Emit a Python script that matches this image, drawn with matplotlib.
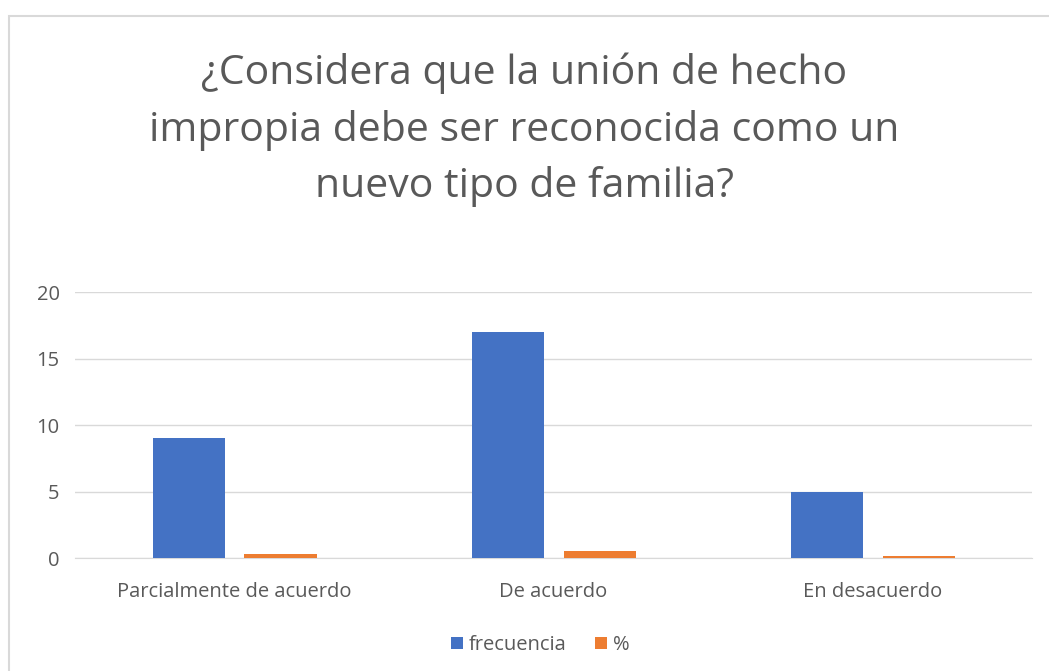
"""Bar chart: unión de hecho impropia survey."""

import matplotlib.pyplot as plt
import numpy as np
from matplotlib.patches import Rectangle

plt.rcParams["font.family"] = ["Open Sans", "DejaVu Sans"]

# Data
categories = ["Parcialmente de acuerdo", "De acuerdo", "En desacuerdo"]
frecuencia = [9, 17, 5]
porcentaje = [0.29, 0.55, 0.16]
yticks = [0, 5, 10, 15, 20]

blue = "#4472C4"
orange = "#ED7D31"
grid = "#D9D9D9"
text_gray = "#595959"

fig = plt.figure(figsize=(10.49, 6.71), dpi=100)
ax = fig.add_axes([0.0715, 0.1684, 0.9125, 0.3964])

# chart border
fig.patches.append(Rectangle((9 / 1049, -0.01), 1.05, 1 - 16 / 671 + 0.01,
                             transform=fig.transFigure, fill=False,
                             edgecolor="#D9D9D9", linewidth=1.5))

x = np.arange(len(categories))
w = 0.226
ax.bar(x - 0.142, frecuencia, w, color=blue, label="frecuencia", zorder=3)
ax.bar(x + 0.144, porcentaje, w, color=orange, label="%", zorder=3)

ax.set_xlim(-0.5, len(categories) - 0.5)
ax.set_ylim(0, 20)
ax.set_yticks(yticks)
ax.set_xticks(x)
ax.set_xticklabels(categories)
ax.yaxis.grid(True, color=grid, linewidth=1)
ax.set_axisbelow(True)
for s in ["top", "right", "left"]:
    ax.spines[s].set_visible(False)
ax.spines["bottom"].set_color(grid)
ax.tick_params(axis="x", length=0, labelsize=14.5, colors=text_gray, pad=17)
ax.tick_params(axis="y", length=0, labelsize=14.5, colors=text_gray, pad=11)

fig.text(0.5, 0.806, "¿Considera que la unión de hecho\nimpropia debe ser reconocida como un\nnuevo tipo de familia?",
         ha="center", va="center", fontsize=29.5, color=text_gray, linespacing=1.5)

ax.legend(loc="center", bbox_to_anchor=(0.515, 0.0385), bbox_transform=fig.transFigure,
          ncol=2, frameon=False, fontsize=14.5, handlelength=0.6, handleheight=0.6,
          handletextpad=0.3, columnspacing=1.4, labelcolor=text_gray)

plt.savefig("out.png", dpi=100)
plt.close()
